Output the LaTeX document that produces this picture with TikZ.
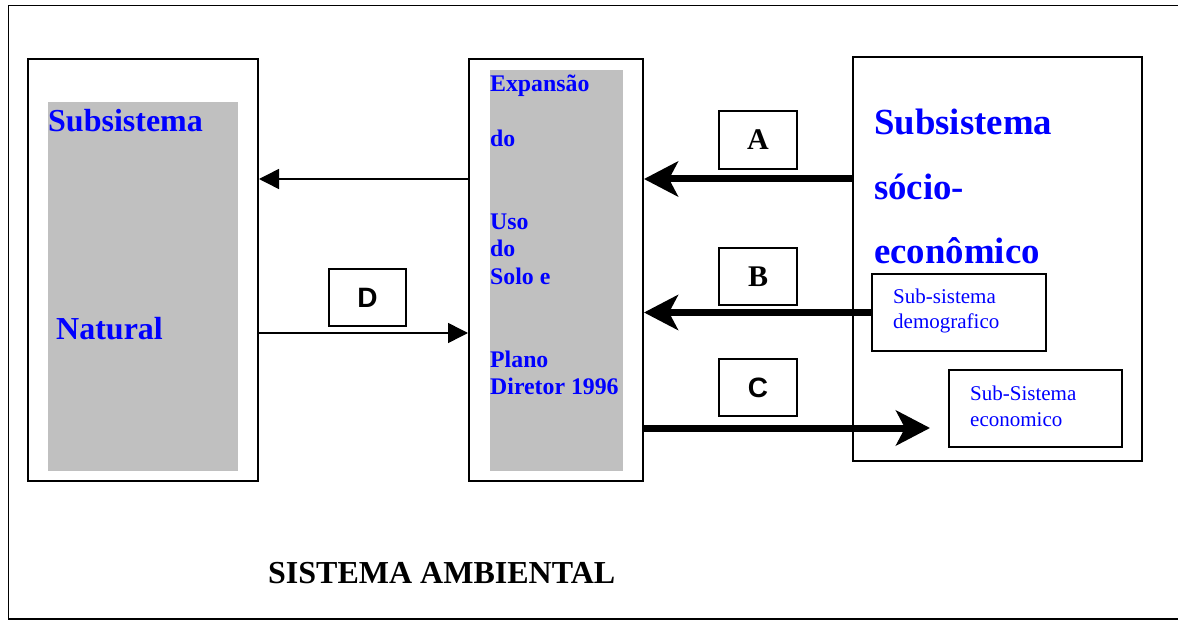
\documentclass[tikz,border=0pt]{standalone}
\usepackage{fontspec}
\setmainfont{Liberation Serif}
\newfontfamily\sansfam{Liberation Sans}
\usetikzlibrary{arrows.meta}
\definecolor{panelgray}{RGB}{192,192,192}
\definecolor{txtblue}{RGB}{0,0,255}
\begin{document}
\begin{tikzpicture}[x=1pt,y=-1pt,
  frame/.style={draw, line width=2pt, inner sep=0pt, fill=white},
  panel/.style={fill=panelgray, draw=none, inner sep=0pt},
  tagbox/.style={draw, line width=2pt, inner sep=0pt, minimum width=78pt, minimum height=57pt},
  serifletter/.style={font=\fontsize{30}{30}\selectfont\bfseries},
  sansletter/.style={font=\sansfam\fontsize{28}{28}\selectfont\bfseries},
  bigblue/.style={anchor=base west, inner sep=0pt, text=txtblue, font=\fontsize{32}{32}\selectfont\bfseries},
  hugeblue/.style={anchor=base west, inner sep=0pt, text=txtblue, font=\fontsize{36.8}{36.8}\selectfont\bfseries},
  midblue/.style={anchor=base west, inner sep=0pt, text=txtblue, font=\fontsize{23.8}{23.8}\selectfont\bfseries},
  smallblue/.style={anchor=base west, inner sep=0pt, text=txtblue, font=\fontsize{21}{21}\selectfont},
  heavyarrow/.style={line width=7pt, -{Stealth[length=34pt, width=35pt, inset=9pt]}},
  lightarrow/.style={line width=1.5pt, -{Triangle[length=20pt, width=20pt]}}]
\useasboundingbox (0,0) rectangle (1178,620);
\fill[white] (0,0) rectangle (1178,620);

% outer frame of the environmental system
\draw[line width=1.8pt] (1190,5.5) -- (8.5,5.5) -- (8.5,619) -- (1190,619);

% natural subsystem
\node[frame, minimum width=230pt, minimum height=422pt] (nat) at (143,270) {};
\node[panel, minimum width=190pt, minimum height=369pt] (natpanel) at (143,286.5) {};
\node[bigblue] (natA) at (48,132) {Subsistema};
\node[bigblue] (natB) at (56,339) {Natural};

% land use expansion
\node[frame, minimum width=174pt, minimum height=422pt] (mid) at (556,270) {};
\node[panel, minimum width=133pt, minimum height=401pt] (midpanel) at (556.5,270.5) {};
\node[midblue] (m1) at (490,92) {Expansão};
\node[midblue] (m2) at (490,147) {do};
\node[midblue] (m3) at (490,229.5) {Uso};
\node[midblue] (m4) at (490,257) {do};
\node[midblue] (m5) at (490,284.5) {Solo e};
\node[midblue] (m6) at (490,367) {Plano};
\node[midblue] (m7) at (490,394.5) {Diretor 1996};

% socio-economic subsystem
\node[frame, minimum width=289pt, minimum height=404pt] (soc) at (997.5,259) {};
\node[hugeblue] (s1) at (874,135) {Subsistema};
\node[hugeblue] (s2) at (874,200) {sócio-};
\node[hugeblue] (s3) at (874,264) {econômico};
\node[frame, minimum width=174pt, minimum height=77pt] (demo) at (959,312.5) {};
\node[smallblue] (d1) at (893,304) {Sub-sistema};
\node[smallblue] (d2) at (893,329) {demografico};
\node[frame, minimum width=173pt, minimum height=77pt] (econ) at (1035.5,408.5) {};
\node[smallblue] (e1) at (970,400) {Sub-Sistema};
\node[smallblue] (e2) at (970,426.5) {economico};

% flow labels
\node[tagbox, minimum height=58pt, serifletter] (A) at (758,140) {A};
\node[tagbox, serifletter] (B) at (758,276.5) {B};
\node[tagbox, sansletter] (C) at (758,387.5) {C};
\node[tagbox, minimum width=77pt, sansletter] (D) at (367.5,297.5) {D};

% flows
\coordinate (yA) at (0,179);
\coordinate (yD) at (0,333);
\coordinate (yC) at (0,428);
\coordinate (Cend) at (930,428);
\draw[heavyarrow] (soc.west |- yA) -- (mid.east |- yA);
\draw[heavyarrow] (demo.west) -- (mid.east |- demo.west);
\draw[heavyarrow] (mid.east |- yC) -- (Cend);
\draw[lightarrow] (mid.west |- yA) -- (nat.east |- yA);
\draw[lightarrow] (nat.east |- yD) -- (mid.west |- yD);

% title
\node[anchor=base west, inner sep=0pt, font=\fontsize{32}{32}\selectfont\bfseries] (title) at (268,583) {SISTEMA AMBIENTAL};
\end{tikzpicture}
\end{document}
